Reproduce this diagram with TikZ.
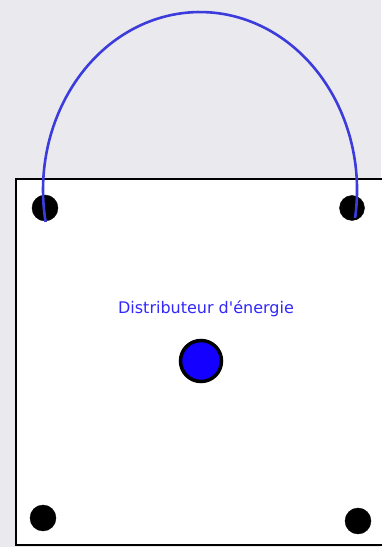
\documentclass[tikz,border=0pt]{standalone}
\usepackage{fontspec}
\setsansfont{DejaVu Sans}
\usepackage{xcolor}
\usepackage{tikz}
\usetikzlibrary{calc,positioning}

\definecolor{bgback}{RGB}{234,234,238}
\definecolor{arcblue}{RGB}{60,60,220}
\definecolor{txtblue}{RGB}{50,40,250}
\definecolor{hubblue}{RGB}{20,0,255}

\begin{document}
\begin{tikzpicture}[x=1pt,y=1pt]
\useasboundingbox (0,0) rectangle (381,547);
\fill[bgback] (0,0) rectangle (381,547);
\draw[line width=2pt,fill=white] (16,2) rectangle (395,368);
% bornes
\node[circle,draw,fill=black,minimum size=26pt,inner sep=0pt] (1) at (45,339) {};
\node[circle,draw,fill=black,minimum size=25pt,inner sep=0pt] (2) at (352,339) {};
\node[circle,draw,fill=black,minimum size=26pt,inner sep=0pt] (3) at (43,29) {};
\node[circle,draw,fill=black,minimum size=26pt,inner sep=0pt] (4) at (358,26) {};
% distributeur
\node[circle,draw,line width=3.5pt,fill=hubblue,minimum size=41pt,inner sep=0pt] (5) at (201,186) {};
\node[font=\sffamily\fontsize{16}{18}\selectfont,text=txtblue] (6) at (206,238) {Distributeur d\textquotesingle énergie};
\draw[arcblue,line width=2.6pt] ($(1)+(0.6,-14)$) arc[start angle=190.35,end angle=-9,x radius=157,y radius=178];
\end{tikzpicture}
\end{document}
